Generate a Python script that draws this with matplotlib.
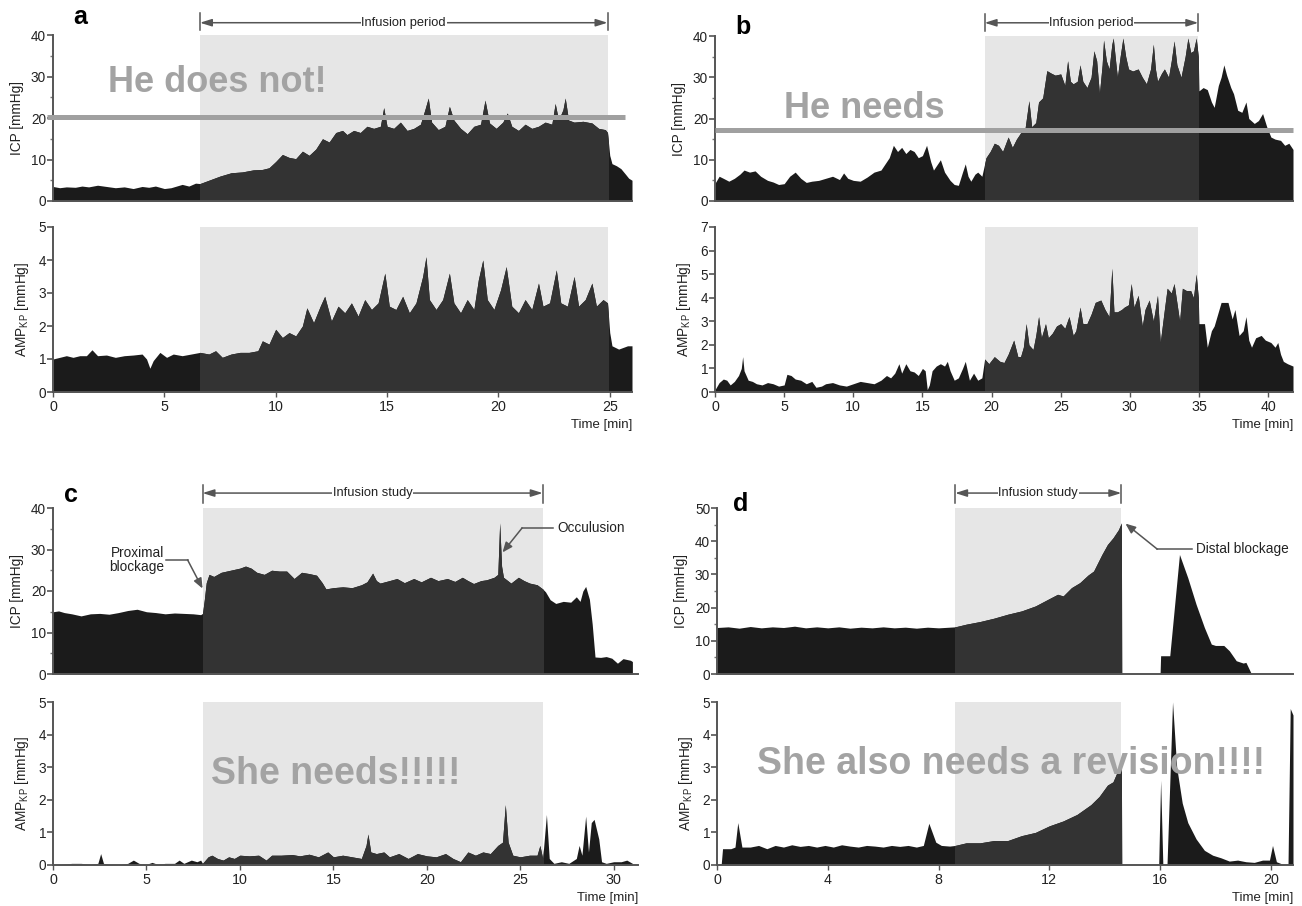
import matplotlib
matplotlib.use('Agg')
import matplotlib.pyplot as plt
from matplotlib.patches import Rectangle
from matplotlib.ticker import MultipleLocator, FixedLocator

plt.rcParams['font.family'] = ['Liberation Sans', 'DejaVu Sans']
plt.rcParams['mathtext.fontset'] = 'custom'
plt.rcParams['mathtext.rm'] = 'Liberation Sans'
plt.rcParams['mathtext.it'] = 'Liberation Sans'

# ---------------- data ----------------
a_icp_t = [0.0, 0.3, 0.6, 1.0, 1.3, 1.6, 2.0, 2.4, 2.8, 3.2, 3.6, 4.0, 4.3, 4.6, 5.0, 5.3, 5.8, 6.1, 6.4, 6.6,
           7.0, 7.5, 8.0, 8.5, 9.0, 9.4, 9.7, 10.0, 10.3, 10.6, 10.9, 11.2, 11.5, 11.8, 12.1, 12.4, 12.7, 13.0,
           13.2, 13.5, 13.8, 14.1, 14.4, 14.7, 14.85, 15.0, 15.3, 15.6, 15.9, 16.2, 16.5, 16.7, 16.85, 17.0,
           17.3, 17.6, 17.8, 18.0, 18.3, 18.6, 18.9, 19.2, 19.4, 19.6, 19.9, 20.2, 20.4, 20.6, 20.9, 21.2,
           21.5, 21.8, 22.1, 22.4, 22.55, 22.7, 22.9, 23.0, 23.15, 23.4, 23.8, 24.2, 24.5, 24.8, 24.9, 25.0,
           25.1, 25.3, 25.5, 25.7, 25.85, 26.0]
a_icp_v = [3.5, 3.2, 3.4, 3.3, 3.6, 3.4, 3.8, 3.5, 3.2, 3.4, 3.0, 3.5, 3.3, 3.6, 3.0, 3.2, 4.0, 3.6, 4.3, 4.2,
           5.0, 6.0, 6.8, 7.0, 7.5, 7.6, 8.0, 9.5, 11.2, 10.5, 10.2, 12.0, 11.0, 12.5, 15.0, 14.2, 16.5, 17.0,
           16.0, 17.0, 16.5, 18.0, 17.5, 18.0, 22.5, 18.0, 17.5, 19.0, 17.0, 17.5, 18.5, 22.0, 24.8, 19.0,
           17.2, 18.0, 22.8, 19.5, 17.5, 16.2, 18.0, 18.5, 24.3, 18.8, 17.5, 19.0, 21.2, 18.0, 17.0, 18.5,
           17.5, 18.0, 19.0, 18.5, 23.5, 19.5, 22.0, 24.8, 19.5, 19.0, 19.2, 18.8, 17.5, 17.2, 16.5, 11.0,
           9.0, 8.5, 7.8, 6.5, 5.5, 5.0]

a_amp_t = [0.0, 0.3, 0.6, 0.9, 1.2, 1.5, 1.75, 2.0, 2.4, 2.8, 3.2, 3.6, 4.0, 4.2, 4.35, 4.5, 4.8, 5.1, 5.4, 5.8,
           6.2, 6.6, 7.0, 7.3, 7.6, 8.0, 8.4, 8.8, 9.2, 9.4, 9.7, 10.0, 10.3, 10.6, 10.9, 11.2, 11.4, 11.7,
           12.0, 12.2, 12.5, 12.8, 13.1, 13.4, 13.7, 14.0, 14.3, 14.6, 14.9, 15.1, 15.4, 15.7, 16.0, 16.3,
           16.6, 16.75, 16.9, 17.2, 17.5, 17.8, 18.0, 18.3, 18.6, 18.9, 19.1, 19.3, 19.5, 19.8, 20.1, 20.35,
           20.6, 20.9, 21.2, 21.5, 21.8, 22.0, 22.3, 22.6, 22.8, 23.1, 23.4, 23.6, 23.9, 24.2, 24.4, 24.7,
           24.9, 25.0, 25.1, 25.4, 25.6, 25.8, 26.0]
a_amp_v = [1.0, 1.05, 1.1, 1.05, 1.1, 1.1, 1.28, 1.1, 1.12, 1.05, 1.1, 1.12, 1.15, 1.0, 0.72, 0.95, 1.2, 1.05,
           1.15, 1.1, 1.15, 1.2, 1.15, 1.25, 1.05, 1.15, 1.2, 1.2, 1.25, 1.55, 1.45, 1.9, 1.65, 1.8, 1.7, 2.0,
           2.55, 2.1, 2.6, 2.9, 2.15, 2.6, 2.4, 2.7, 2.3, 2.8, 2.5, 2.7, 3.6, 2.6, 2.5, 2.9, 2.4, 2.7, 3.5,
           4.1, 2.8, 2.5, 2.8, 3.6, 2.7, 2.4, 2.8, 2.5, 3.4, 4.0, 2.8, 2.5, 3.1, 3.8, 2.6, 2.4, 2.8, 2.5, 3.3,
           2.6, 2.7, 3.7, 2.7, 2.6, 3.5, 2.6, 2.8, 3.3, 2.6, 2.8, 2.7, 1.8, 1.4, 1.3, 1.35, 1.4, 1.4]

b_icp_t = [0.0, 0.3, 0.6, 1.0, 1.4, 1.8, 2.1, 2.5, 2.9, 3.3, 3.8, 4.2, 4.6, 5.0, 5.4, 5.8, 6.2, 6.6, 7.0, 7.5,
           8.0, 8.5, 9.0, 9.3, 9.6, 10.0, 10.5, 11.0, 11.5, 12.0, 12.3, 12.6, 12.9, 13.2, 13.5, 13.8, 14.1,
           14.4, 14.7, 15.0, 15.3, 15.6, 15.8, 16.1, 16.3, 16.6, 17.0, 17.3, 17.6, 17.9, 18.1, 18.3, 18.5,
           18.8, 19.0, 19.3, 19.6, 19.9, 20.2, 20.5, 20.8, 21.2, 21.5, 21.8, 22.1, 22.4, 22.7, 22.9, 23.2,
           23.4, 23.7, 24.0, 24.3, 24.6, 25.0, 25.3, 25.5, 25.7, 25.9, 26.2, 26.4, 26.6, 26.9, 27.2, 27.4,
           27.6, 27.8, 28.0, 28.1, 28.3, 28.5, 28.7, 28.8, 29.0, 29.1, 29.3, 29.5, 29.7, 29.9, 30.2, 30.6,
           30.9, 31.2, 31.5, 31.7, 31.85, 32.0, 32.3, 32.5, 32.8, 33.0, 33.2, 33.4, 33.7, 34.0, 34.2, 34.4,
           34.6, 34.8, 34.95, 35.0, 35.3, 35.6, 35.9, 36.1, 36.4, 36.6, 36.8, 37.0, 37.3, 37.5, 37.8, 38.1,
           38.4, 38.6, 39.0, 39.3, 39.6, 39.9, 40.2, 40.5, 40.9, 41.2, 41.5, 41.8]
b_icp_v = [4.3, 6.0, 5.5, 4.8, 5.5, 6.5, 7.5, 7.0, 7.3, 6.0, 5.0, 4.6, 4.0, 4.2, 6.0, 7.0, 5.5, 4.5, 4.8, 5.0,
           5.5, 6.0, 5.2, 6.8, 5.5, 5.0, 4.8, 5.8, 7.0, 7.5, 9.0, 10.5, 13.5, 12.0, 13.0, 11.5, 12.5, 12.0,
           10.5, 11.0, 13.5, 9.5, 7.5, 9.0, 10.0, 7.0, 5.0, 4.0, 3.8, 7.0, 9.0, 6.0, 4.8, 6.5, 7.0, 6.0,
           10.5, 12.0, 14.0, 13.5, 12.0, 15.5, 13.0, 15.0, 16.5, 17.0, 24.3, 18.0, 19.0, 24.0, 25.0, 31.6,
           31.0, 30.5, 30.8, 28.0, 34.0, 29.0, 28.4, 29.0, 33.0, 29.0, 27.5, 30.0, 36.4, 34.0, 26.0, 33.0,
           39.0, 34.0, 32.0, 38.0, 39.5, 33.0, 30.0, 35.0, 39.5, 35.0, 32.0, 31.5, 32.0, 30.0, 28.4, 32.0,
           38.0, 32.0, 29.0, 31.0, 32.0, 30.0, 34.0, 38.8, 33.0, 30.0, 35.0, 39.5, 36.0, 36.4, 39.5, 35.0,
           26.7, 27.5, 27.0, 24.0, 22.7, 28.0, 30.0, 33.0, 30.5, 27.5, 26.0, 22.0, 21.5, 24.0, 20.0, 18.8,
           19.5, 21.2, 18.0, 15.5, 15.0, 14.7, 13.5, 14.0, 12.5]

b_amp_t = [0.0, 0.3, 0.6, 0.85, 1.1, 1.4, 1.7, 1.9, 2.0, 2.1, 2.4, 2.7, 3.0, 3.4, 3.8, 4.2, 4.6, 5.0, 5.2, 5.5,
           5.8, 6.2, 6.6, 7.0, 7.3, 7.7, 8.0, 8.5, 9.0, 9.5, 10.0, 10.5, 11.0, 11.5, 12.0, 12.4, 12.7, 13.0,
           13.3, 13.5, 13.8, 14.1, 14.4, 14.7, 15.0, 15.2, 15.35, 15.5, 15.7, 16.0, 16.3, 16.6, 16.8, 17.0,
           17.3, 17.6, 17.9, 18.1, 18.4, 18.7, 19.0, 19.3, 19.5, 19.8, 20.2, 20.6, 20.9, 21.2, 21.6, 21.9,
           22.1, 22.3, 22.5, 22.7, 23.0, 23.2, 23.4, 23.6, 23.9, 24.1, 24.4, 24.7, 25.0, 25.3, 25.6, 25.9,
           26.1, 26.4, 26.6, 26.9, 27.2, 27.5, 27.9, 28.2, 28.5, 28.7, 28.85, 29.1, 29.4, 29.6, 29.9, 30.1,
           30.3, 30.6, 30.9, 31.1, 31.4, 31.7, 32.0, 32.2, 32.5, 32.7, 33.0, 33.2, 33.4, 33.6, 33.8, 34.1,
           34.4, 34.6, 34.8, 34.95, 35.0, 35.4, 35.6, 35.9, 36.1, 36.4, 36.6, 37.1, 37.4, 37.6, 37.9, 38.2,
           38.4, 38.6, 38.8, 39.1, 39.5, 39.8, 40.2, 40.5, 40.7, 40.9, 41.1, 41.4, 41.8]
b_amp_v = [0.1, 0.4, 0.55, 0.5, 0.3, 0.45, 0.7, 1.0, 1.5, 0.9, 0.5, 0.45, 0.35, 0.3, 0.4, 0.35, 0.25, 0.3, 0.75,
           0.7, 0.55, 0.5, 0.35, 0.45, 0.2, 0.25, 0.35, 0.4, 0.3, 0.25, 0.35, 0.45, 0.4, 0.35, 0.5, 0.7, 0.6,
           0.8, 1.2, 0.8, 1.2, 0.9, 0.85, 0.7, 1.0, 0.9, 0.1, 0.3, 0.9, 1.1, 1.2, 1.1, 1.3, 0.9, 0.5, 0.6,
           1.0, 1.3, 0.5, 0.8, 0.5, 0.6, 1.4, 1.2, 1.5, 1.3, 1.25, 1.6, 2.2, 1.5, 1.5, 1.9, 2.9, 2.0, 1.8,
           2.4, 3.2, 2.3, 2.9, 2.3, 2.5, 2.8, 2.9, 2.7, 3.2, 2.4, 2.6, 3.6, 2.9, 2.9, 3.3, 3.8, 3.9, 3.5,
           3.2, 5.25, 3.4, 3.4, 3.5, 3.6, 3.7, 4.6, 3.6, 4.1, 2.8, 3.5, 3.9, 3.0, 4.1, 2.1, 3.5, 4.4, 4.2,
           4.6, 3.8, 3.0, 4.4, 4.3, 4.3, 4.0, 5.0, 4.0, 2.9, 2.9, 1.9, 2.6, 2.8, 3.4, 3.8, 3.8, 3.1, 3.5,
           2.4, 2.6, 3.2, 2.2, 1.9, 2.3, 2.4, 2.2, 2.1, 1.9, 2.1, 1.6, 1.3, 1.2, 1.1]

c_icp_t = [0.0, 0.3, 0.6, 1.0, 1.5, 2.0, 2.5, 3.0, 3.5, 4.0, 4.5, 5.0, 5.5, 6.0, 6.5, 7.0, 7.5, 7.9, 8.0, 8.1,
           8.2, 8.35, 8.6, 9.0, 9.5, 10.0, 10.3, 10.6, 10.9, 11.3, 11.7, 12.1, 12.5, 12.9, 13.3, 13.7, 14.1,
           14.4, 14.6, 15.0, 15.5, 16.0, 16.5, 16.8, 17.1, 17.3, 17.5, 18.0, 18.4, 18.8, 19.3, 19.7, 20.2,
           20.6, 21.1, 21.5, 21.9, 22.2, 22.5, 22.9, 23.2, 23.6, 23.8, 23.9, 24.0, 24.1, 24.5, 24.9, 25.2,
           25.5, 25.9, 26.2, 26.35, 26.6, 26.9, 27.3, 27.7, 28.0, 28.2, 28.35, 28.5, 28.7, 28.85, 29.0, 29.3,
           29.6, 29.9, 30.2, 30.5, 30.7, 30.9, 31.0]
c_icp_v = [15.0, 15.2, 14.8, 14.5, 14.0, 14.5, 14.6, 14.4, 14.8, 15.3, 15.6, 15.0, 14.8, 14.5, 14.7, 14.6, 14.5,
           14.3, 14.6, 18.0, 22.0, 24.0, 23.5, 24.5, 25.0, 25.5, 26.0, 25.5, 24.5, 24.0, 25.0, 24.8, 24.8,
           23.0, 24.5, 24.2, 23.8, 22.0, 20.5, 20.8, 21.0, 20.8, 21.5, 22.2, 24.3, 22.5, 21.9, 22.5, 23.0,
           22.0, 23.0, 22.2, 23.3, 22.5, 23.0, 22.3, 23.3, 22.5, 21.8, 22.5, 22.7, 23.3, 24.0, 36.4, 26.0,
           23.3, 21.9, 23.3, 22.5, 21.9, 21.5, 20.5, 19.8, 17.9, 17.0, 17.5, 17.3, 18.6, 17.5, 20.0, 21.1,
           18.0, 12.0, 4.1, 4.0, 4.2, 3.8, 2.6, 3.7, 3.5, 3.3, 3.0]

c_amp_t = [0.0, 0.5, 1.0, 1.5, 2.0, 2.4, 2.55, 2.7, 3.0, 3.5, 4.0, 4.3, 4.6, 5.0, 5.3, 5.6, 6.0, 6.5, 6.75, 7.0,
           7.4, 7.7, 7.9, 8.0, 8.3, 8.5, 8.8, 9.1, 9.4, 9.7, 10.0, 10.5, 11.0, 11.4, 11.7, 12.2, 12.8, 13.2,
           13.7, 14.2, 14.7, 15.0, 15.5, 16.0, 16.5, 16.75, 16.85, 17.0, 17.3, 17.7, 18.0, 18.5, 19.0, 19.5,
           20.0, 20.5, 21.0, 21.4, 21.8, 22.2, 22.6, 23.0, 23.4, 23.8, 24.05, 24.2, 24.35, 24.6, 25.0, 25.5,
           25.9, 26.05, 26.2, 26.4, 26.55, 26.8, 27.2, 27.6, 28.0, 28.15, 28.3, 28.5, 28.65, 28.8, 28.95,
           29.2, 29.35, 29.6, 30.0, 30.4, 30.7, 31.0]
c_amp_v = [0.0, 0.02, 0.05, 0.05, 0.02, 0.05, 0.35, 0.05, 0.02, 0.0, 0.05, 0.15, 0.05, 0.02, 0.08, 0.02, 0.05,
           0.05, 0.15, 0.05, 0.15, 0.1, 0.15, 0.05, 0.25, 0.3, 0.2, 0.15, 0.25, 0.2, 0.3, 0.28, 0.3, 0.15,
           0.3, 0.3, 0.32, 0.28, 0.33, 0.25, 0.4, 0.25, 0.3, 0.25, 0.2, 0.6, 0.95, 0.4, 0.35, 0.4, 0.25,
           0.35, 0.2, 0.35, 0.28, 0.25, 0.35, 0.2, 0.1, 0.4, 0.3, 0.4, 0.35, 0.6, 0.7, 1.85, 0.7, 0.3, 0.25,
           0.3, 0.3, 0.6, 0.2, 1.55, 0.2, 0.05, 0.1, 0.05, 0.2, 0.6, 0.3, 1.5, 0.4, 1.3, 1.4, 0.8, 0.1, 0.05,
           0.1, 0.1, 0.15, 0.05]

d_icp_t = [0.0, 0.4, 0.8, 1.2, 1.6, 2.0, 2.4, 2.8, 3.2, 3.6, 4.0, 4.4, 4.8, 5.2, 5.6, 6.0, 6.4, 6.8, 7.2, 7.6,
           8.0, 8.4, 8.6, 9.0, 9.5, 10.0, 10.5, 11.0, 11.5, 12.0, 12.3, 12.5, 12.8, 13.1, 13.4, 13.6, 13.9,
           14.1, 14.3, 14.5, 14.6, 14.62, 16.0, 16.02, 16.35, 16.7, 17.0, 17.3, 17.6, 17.85, 18.0, 18.3, 18.5,
           18.75, 19.0, 19.1, 19.3, 20.8]
d_icp_v = [14.0, 14.2, 13.8, 14.3, 13.9, 14.2, 14.0, 14.4, 13.9, 14.2, 13.9, 14.2, 13.8, 14.1, 13.9, 14.2, 13.9,
           14.1, 13.8, 14.1, 13.9, 14.1, 14.2, 15.0, 15.8, 16.8, 18.0, 19.0, 20.5, 22.7, 24.0, 23.5, 26.0,
           27.5, 29.8, 31.0, 36.0, 39.0, 41.0, 43.5, 45.5, 0.0, 0.0, 5.5, 5.5, 36.0, 29.0, 21.0, 14.0, 9.0,
           8.6, 8.6, 7.0, 4.0, 3.3, 3.5, 0.0, 0.0]

d_amp_t = [0.0, 0.15, 0.2, 0.5, 0.65, 0.75, 0.9, 1.2, 1.5, 1.8, 2.1, 2.4, 2.7, 3.0, 3.3, 3.6, 3.9, 4.2, 4.5, 4.8,
           5.1, 5.4, 5.7, 6.0, 6.3, 6.6, 6.9, 7.2, 7.45, 7.65, 7.9, 8.1, 8.4, 8.6, 9.0, 9.5, 10.0, 10.5, 11.0,
           11.5, 12.0, 12.5, 13.0, 13.5, 13.8, 14.1, 14.3, 14.5, 14.6, 14.62, 15.95, 16.02, 16.1, 16.25, 16.45,
           16.6, 16.8, 17.0, 17.3, 17.6, 17.9, 18.2, 18.5, 18.8, 19.1, 19.4, 19.7, 19.95, 20.06, 20.2, 20.5,
           20.62, 20.7, 20.8]
d_amp_v = [0.0, 0.0, 0.5, 0.5, 0.55, 1.3, 0.55, 0.55, 0.6, 0.5, 0.6, 0.55, 0.62, 0.57, 0.6, 0.55, 0.6, 0.55,
           0.62, 0.58, 0.55, 0.6, 0.58, 0.55, 0.6, 0.57, 0.6, 0.55, 0.6, 1.28, 0.7, 0.6, 0.58, 0.6, 0.68,
           0.68, 0.75, 0.75, 0.9, 1.0, 1.2, 1.35, 1.55, 1.85, 2.1, 2.45, 2.55, 2.95, 3.15, 0.0, 0.0, 2.6,
           0.0, 0.0, 5.0, 3.0, 1.9, 1.3, 0.8, 0.45, 0.3, 0.22, 0.12, 0.15, 0.1, 0.08, 0.15, 0.15, 0.6, 0.1,
           0.0, 0.0, 4.8, 4.6]

infusion_a = (6.6, 24.9)
infusion_b = (19.5, 34.95)
infusion_c = (8.0, 26.2)
infusion_d = (8.6, 14.6)

xticks_a = [0, 5, 10, 15, 20, 25]
xticks_b = [0, 5, 10, 15, 20, 25, 30, 35, 40]
xticks_c = [0, 5, 10, 15, 20, 25, 30]
xticks_d = [0, 4, 8, 12, 16, 20]

# ---------------- style ----------------
OUT = '#1b1b1b'
INS = '#333333'
SHADE = '#e6e6e6'
SPINE = '#555555'
TXT = '#222222'
BIG = '#a3a3a3'
FS = 9.8

W, H = 1302, 906
fig = plt.figure(figsize=(W / 100, H / 100), dpi=100)


def rect(x0, x1, ytop, ybot):
    return [x0 / W, 1 - ybot / H, (x1 - x0) / W, (ybot - ytop) / H]


def panel(r, t, v, xlim, ylim, yticks, span, minor=None, xticks=None, ylabel='', bar=None):
    ax = fig.add_axes(r)
    ax.set_xlim(*xlim)
    ax.set_ylim(*ylim)
    ax.axvspan(span[0], span[1], color=SHADE, lw=0, zorder=0)
    ax.fill_between(t, v, 0, color=OUT, lw=0, zorder=2)
    p = ax.fill_between(t, v, 0, color=INS, lw=0, zorder=3)
    p.set_clip_path(Rectangle((span[0], ylim[0]), span[1] - span[0], ylim[1] - ylim[0],
                              transform=ax.transData))
    for s in ('top', 'right'):
        ax.spines[s].set_visible(False)
    for s in ('left', 'bottom'):
        ax.spines[s].set_color(SPINE)
        ax.spines[s].set_linewidth(1.4)
        ax.spines[s].set_zorder(6)
    ax.yaxis.set_major_locator(FixedLocator(yticks))
    if minor:
        ax.yaxis.set_minor_locator(MultipleLocator(minor))
    ax.tick_params(axis='y', which='major', direction='out', length=4, width=1.2,
                   color=SPINE, labelsize=FS, labelcolor=TXT, pad=1)
    ax.tick_params(axis='y', which='minor', direction='out', length=2.5, width=1.0, color='#777777')
    if xticks is None:
        ax.tick_params(axis='x', length=0, labelbottom=False)
    else:
        ax.xaxis.set_major_locator(FixedLocator(xticks))
        ax.tick_params(axis='x', direction='out', length=3.5, width=1.0, color=SPINE,
                       labelsize=FS + 0.5, labelcolor=TXT, pad=2)
        ax.text(1.0, -0.2, 'Time [min]', transform=ax.transAxes, ha='right', va='center',
                fontsize=FS - 0.3, color=TXT)
    ax.set_ylabel(ylabel, fontsize=FS, color=TXT, labelpad=5)
    if bar is not None:
        label, yline, ylo, yhi = bar
        tr = ax.get_xaxis_transform()
        ax.annotate('', xy=(span[0], yline), xytext=(span[1], yline), xycoords=tr, textcoords=tr,
                    arrowprops=dict(arrowstyle='<|-|>,head_length=0.7,head_width=0.22', color='#555555',
                                    lw=1.1, shrinkA=0, shrinkB=0), annotation_clip=False)
        for xs in span:
            ax.plot([xs, xs], [ylo, yhi], transform=tr, color='#555555', lw=1.1, clip_on=False)
        ax.text((span[0] + span[1]) / 2, yline, label, transform=tr, ha='center', va='center',
                fontsize=FS - 0.5, color=TXT,
                bbox=dict(boxstyle='square,pad=0.05', fc='white', ec='none'))
    return ax


amp_label = r'AMP$_{\mathregular{KP}}$ [mmHg]'
icp_label = 'ICP [mmHg]'

ax_a1 = panel(rect(53, 632, 35, 201), a_icp_t, a_icp_v, (0, 26), (0, 40), [0, 10, 20, 30, 40], infusion_a,
              minor=5, ylabel=icp_label, bar=('Infusion period', 1.074, 1.03, 1.133))
ax_a2 = panel(rect(53, 632, 227, 392), a_amp_t, a_amp_v, (0, 26), (0, 5), [0, 1, 2, 3, 4, 5], infusion_a,
              xticks=xticks_a, ylabel=amp_label)
ax_b1 = panel(rect(715, 1293, 36, 201), b_icp_t, b_icp_v, (0, 41.8), (0, 40), [0, 10, 20, 30, 40], infusion_b,
              minor=5, ylabel=icp_label, bar=('Infusion period', 1.08, 1.03, 1.133))
ax_b2 = panel(rect(715, 1293, 227, 392), b_amp_t, b_amp_v, (0, 41.8), (0, 7), [0, 1, 2, 3, 4, 5, 6, 7],
              infusion_b, xticks=xticks_b, ylabel=amp_label)
ax_c1 = panel(rect(53, 638, 508, 674), c_icp_t, c_icp_v, (0, 31.3), (0, 40), [0, 10, 20, 30, 40], infusion_c,
              minor=5, ylabel=icp_label, bar=('Infusion study', 1.09, 1.03, 1.139))
ax_c2 = panel(rect(53, 638, 702, 865), c_amp_t, c_amp_v, (0, 31.3), (0, 5), [0, 1, 2, 3, 4, 5], infusion_c,
              xticks=xticks_c, ylabel=amp_label)
ax_d1 = panel(rect(717, 1293, 508, 674), d_icp_t, d_icp_v, (0, 20.8), (0, 50), [0, 10, 20, 30, 40, 50],
              infusion_d, minor=5, ylabel=icp_label, bar=('Infusion study', 1.09, 1.03, 1.139))
ax_d2 = panel(rect(717, 1293, 702, 865), d_amp_t, d_amp_v, (0, 20.8), (0, 5), [0, 1, 2, 3, 4, 5], infusion_d,
              xticks=xticks_d, ylabel=amp_label)

# threshold lines
ax_a1.plot([-0.25, 25.7], [20.3, 20.3], color='#a0a0a0', lw=3.6, solid_capstyle='butt', clip_on=False, zorder=7)
ax_b1.plot([0, 41.8], [17.1, 17.1], color='#a0a0a0', lw=3.6, solid_capstyle='butt', clip_on=False, zorder=7)

# big comments
big = dict(color=BIG, fontweight='bold', ha='center', va='center', zorder=8)
ax_a1.text(7.4, 28.6, 'He does not!', fontsize=26, **big)
ax_b1.text(10.8, 22.4, 'He needs', fontsize=26, **big)
ax_c2.text(15.1, 2.8, 'She needs!!!!!', fontsize=27, **big)
ax_d2.text(10.6, 3.1, 'She also needs a revision!!!!', fontsize=27, **big)

# panel letters
for x, y, s in [(80, 17, 'a'), (743, 27, 'b'), (71, 495, 'c'), (741, 504, 'd')]:
    fig.text(x / W, 1 - y / H, s, fontsize=18, fontweight='bold', ha='center', va='center', color='black')

# annotations
arrow_kw = dict(arrowstyle='-|>,head_length=0.6,head_width=0.25', color='#555555', lw=1.1,
                shrinkA=0, shrinkB=0)
ax_c1.text(4.5, 27.5, 'Proximal\nblockage', ha='center', va='center', fontsize=FS, color=TXT,
           linespacing=1.05)
ax_c1.plot([6.05, 7.2], [27.5, 27.5], color='#555555', lw=1.1, zorder=7)
ax_c1.annotate('', xy=(8.0, 20.6), xytext=(7.2, 27.5), arrowprops=arrow_kw, zorder=7)

ax_c1.text(27.0, 35.2, 'Occulusion', ha='left', va='center', fontsize=FS, color=TXT)
ax_c1.plot([26.75, 25.1], [35.2, 35.2], color='#555555', lw=1.1, zorder=7, clip_on=False)
ax_c1.annotate('', xy=(24.05, 29.3), xytext=(25.1, 35.2), arrowprops=arrow_kw, zorder=7)

ax_d1.text(17.3, 37.6, 'Distal blockage', ha='left', va='center', fontsize=FS, color=TXT)
ax_d1.plot([17.15, 15.9], [37.6, 37.6], color='#555555', lw=1.1, zorder=7)
ax_d1.annotate('', xy=(14.75, 45.3), xytext=(15.9, 37.6), arrowprops=arrow_kw, zorder=7,
               annotation_clip=False)

fig.savefig('out.png', dpi=100, facecolor='white')
